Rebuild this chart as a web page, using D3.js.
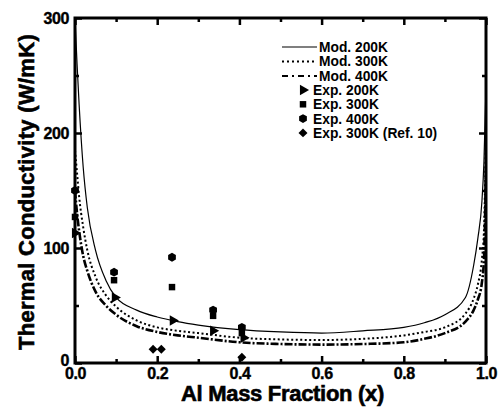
<!DOCTYPE html>
<html>
<head>
<meta charset="utf-8">
<script src="https://cdn.jsdelivr.net/npm/d3@7"></script>
<style>
  body { margin: 0; background: #fff; }
  text { font-family: "Liberation Sans", Arial, sans-serif; font-weight: bold; fill: #000; }
</style>
</head>
<body>
<div id="chart"></div>
<script>
// model curves
var modX = [0, 0.005, 0.01, 0.02, 0.03, 0.05, 0.075, 0.1, 0.15, 0.2, 0.25, 0.3, 0.4, 0.5,
            0.6, 0.7, 0.8, 0.85, 0.9, 0.95, 0.97, 0.98, 0.99, 0.995, 1.0];
var mod200 = [300, 260, 225, 170, 135, 98, 72, 57, 46, 40, 36, 33, 29, 27,
              26, 28, 31, 35, 42, 57, 85, 108, 140, 175, 240];
var mod300 = [185, 165, 145, 118, 98, 75, 59, 49, 37, 31, 28, 26, 22, 20.5,
              20, 21, 24, 27, 31, 43, 56, 68, 90, 115, 200];
var mod400 = [150, 130, 115, 93, 80, 62, 50, 42, 32, 27, 24, 22, 18, 16.5,
              16, 16.5, 18, 21, 26, 36, 46, 55, 70, 90, 170];

// experimental points
var exp200X = [0, 0.097, 0.238, 0.336, 0.41];
var exp200Y = [113, 57, 37, 28, 22];
var exp300X = [0, 0.095, 0.236, 0.336, 0.406];
var exp300Y = [127, 72, 66, 41, 26];
var exp400X = [0, 0.095, 0.236, 0.336, 0.406];
var exp400Y = [150, 79, 92, 46, 31];
var refX = [0.19, 0.21, 0.406];
var refY = [12, 12, 5];

var xTicks = [0, 0.2, 0.4, 0.6, 0.8, 1.0];
var xMinor = [0.1, 0.3, 0.5, 0.7, 0.9];
var yTicks = [0, 100, 200, 300];
var yMinor = [50, 150, 250];

var legendLines = ["Mod. 200K", "Mod. 300K", "Mod. 400K"];
var legendMarks = ["Exp. 200K", "Exp. 300K", "Exp. 400K", "Exp. 300K (Ref. 10)"];

var width = 501, height = 412;
var pLeft = 75, pRight = 486, pTop = 18, pBottom = 363;

var svg = d3.select("#chart").append("svg")
    .attr("width", width)
    .attr("height", height);

var x = d3.scaleLinear().domain([0, 1]).range([pLeft, pRight]);
var y = d3.scaleLinear().domain([0, 300]).range([pBottom, pTop]);

svg.append("clipPath").attr("id", "clip")
  .append("rect")
    .attr("x", pLeft).attr("y", pTop)
    .attr("width", pRight - pLeft).attr("height", pBottom - pTop);

// curves
var line = d3.line()
    .x(function(d) { return x(d[0]); })
    .y(function(d) { return y(d[1]); })
    .curve(d3.curveMonotoneX);

var styles = [
  {vals: mod200, w: 1.2, dash: null},
  {vals: mod300, w: 2, dash: "2,2.5"},
  {vals: mod400, w: 2.6, dash: "8,2,2,2"}
];

var curves = svg.append("g").attr("clip-path", "url(#clip)");
styles.forEach(function(s) {
  curves.append("path")
    .datum(modX.map(function(v, i) { return [v, s.vals[i]]; }))
    .attr("d", line)
    .attr("fill", "none")
    .attr("stroke", "#000")
    .attr("stroke-width", s.w)
    .attr("stroke-dasharray", s.dash);
});

// marker shapes
var hexagon = {
  draw: function(ctx, size) {
    var r = Math.sqrt(size / 2.598);
    for (var i = 0; i < 6; i++) {
      var a = Math.PI / 3 * i - Math.PI / 2;
      if (i === 0) ctx.moveTo(r * Math.cos(a), r * Math.sin(a));
      else ctx.lineTo(r * Math.cos(a), r * Math.sin(a));
    }
    ctx.closePath();
  }
};

var markers = [
  {xs: exp200X, ys: exp200Y, sym: d3.symbol(d3.symbolTriangle, 48), rot: 90},
  {xs: exp300X, ys: exp300Y, sym: d3.symbol(d3.symbolSquare, 42), rot: 0},
  {xs: exp400X, ys: exp400Y, sym: d3.symbol(hexagon, 52), rot: 0},
  {xs: refX, ys: refY, sym: d3.symbol(d3.symbolSquare, 40), rot: 45}
];

var pts = svg.append("g");
markers.forEach(function(m) {
  pts.selectAll(null)
    .data(m.xs.map(function(v, i) { return [v, m.ys[i]]; }))
    .enter().append("path")
    .attr("d", m.sym)
    .attr("transform", function(d) {
      return "translate(" + x(d[0]) + "," + y(d[1]) + ") rotate(" + m.rot + ")";
    })
    .attr("fill", "#000");
});

// axes, ticks pointing inward on all four sides
function styleAxis(g) {
  g.select(".domain").remove();
  g.selectAll(".tick line").attr("stroke", "#000").attr("stroke-width", 2.5);
  g.selectAll(".tick text").style("font-size", "16px").style("font-weight", "bold")
    .style("font-family", "'Liberation Sans', Arial, sans-serif")
    .attr("letter-spacing", "-0.4")
    .attr("stroke", "#000").attr("stroke-width", 0.4);
}

svg.append("g").attr("transform", "translate(0," + pBottom + ")")
  .call(d3.axisBottom(x).tickValues(xTicks).tickFormat(d3.format(".1f")).tickSize(-7).tickPadding(5))
  .call(styleAxis);
svg.append("g").attr("transform", "translate(0," + pBottom + ")")
  .call(d3.axisBottom(x).tickValues(xMinor).tickFormat("").tickSize(-4))
  .call(styleAxis);
svg.append("g").attr("transform", "translate(0," + pTop + ")")
  .call(d3.axisTop(x).tickValues(xTicks).tickFormat("").tickSize(-7))
  .call(styleAxis);
svg.append("g").attr("transform", "translate(0," + pTop + ")")
  .call(d3.axisTop(x).tickValues(xMinor).tickFormat("").tickSize(-4))
  .call(styleAxis);

svg.append("g").attr("transform", "translate(" + pLeft + ",0)")
  .call(d3.axisLeft(y).tickValues(yTicks).tickSize(-7).tickPadding(6))
  .call(styleAxis)
  .selectAll(".tick text")
    .filter(function(d) { return d === 0; })
    .attr("y", -3);
svg.append("g").attr("transform", "translate(" + pLeft + ",0)")
  .call(d3.axisLeft(y).tickValues(yMinor).tickFormat("").tickSize(-4))
  .call(styleAxis);
svg.append("g").attr("transform", "translate(" + pRight + ",0)")
  .call(d3.axisRight(y).tickValues(yTicks).tickFormat("").tickSize(-7))
  .call(styleAxis);
svg.append("g").attr("transform", "translate(" + pRight + ",0)")
  .call(d3.axisRight(y).tickValues(yMinor).tickFormat("").tickSize(-4))
  .call(styleAxis);

svg.append("rect")
    .attr("x", pLeft).attr("y", pTop)
    .attr("width", pRight - pLeft).attr("height", pBottom - pTop)
    .attr("fill", "none")
    .attr("stroke", "#000")
    .attr("stroke-width", 3);

// axis titles
svg.append("text")
    .attr("x", (pLeft + pRight) / 2 + 2)
    .attr("y", 401)
    .attr("text-anchor", "middle")
    .style("font-size", "22px")
    .attr("letter-spacing", "-0.3")
    .attr("stroke", "#000").attr("stroke-width", 0.6)
    .text("Al Mass Fraction (x)");

svg.append("text")
    .attr("transform", "translate(34," + 192 + ") rotate(-90)")
    .attr("text-anchor", "middle")
    .style("font-size", "22px")
    .attr("letter-spacing", "0.3")
    .attr("stroke", "#000").attr("stroke-width", 0.6)
    .text("Thermal Conductivity (W/mK)");

// legend
var legend = svg.append("g");
styles.forEach(function(s, i) {
  var ly = 47 + i * 14.5;
  legend.append("line")
    .attr("x1", 282).attr("x2", 317)
    .attr("y1", ly).attr("y2", ly)
    .attr("stroke", "#000")
    .attr("stroke-width", Math.min(s.w, 1.8))
    .attr("stroke-dasharray", i === 1 ? "2,3" : (i === 2 ? "6,4,2,4" : null));
  legend.append("text")
    .attr("x", 319).attr("y", ly)
    .attr("dy", "0.36em")
    .style("font-size", "13.8px")
    .text(legendLines[i]);
});
markers.forEach(function(m, i) {
  var ly = 90 + i * 14.3;
  legend.append("path")
    .attr("d", m.sym)
    .attr("transform", "translate(303," + ly + ") rotate(" + m.rot + ")")
    .attr("fill", "#000");
  legend.append("text")
    .attr("x", 313).attr("y", ly)
    .attr("dy", "0.36em")
    .style("font-size", "13.8px")
    .text(legendMarks[i]);
});
</script>
</body>
</html>
